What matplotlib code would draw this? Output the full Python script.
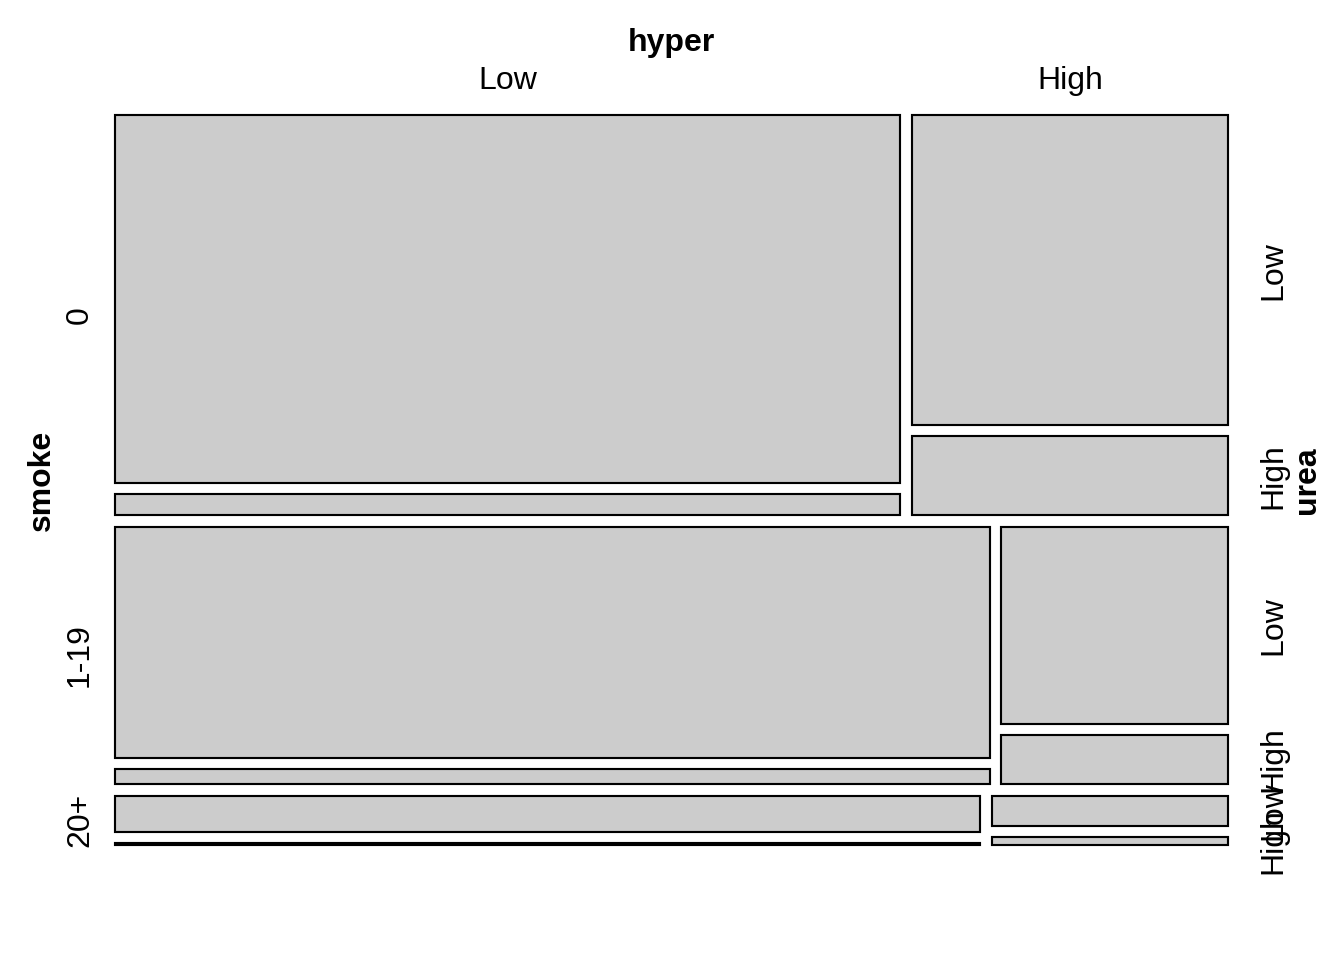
import matplotlib.pyplot as plt
import matplotlib.transforms as mtransforms
from matplotlib.patches import Rectangle

plt.rcParams['font.family'] = ['Liberation Sans', 'DejaVu Sans']

smoke_levels = ["0", "1-19", "20+"]
hyper_levels = ["Low", "High"]
urea_levels = ["Low", "High"]

# counts[smoke][hyper] = [urea Low, urea High]
counts_smoke_0 = [[383, 22], [130, 33]]
counts_smoke_1_19 = [[272, 17], [60, 15]]
counts_smoke_20 = [[52, 3], [12, 3]]
counts = [counts_smoke_0, counts_smoke_1_19, counts_smoke_20]

fig = plt.figure(figsize=(7, 5), dpi=192)
W, H = 1344, 960
left, right, top, bottom = 115, 1228, 115, 845
ax = fig.add_axes([left / W, (H - bottom) / H, (right - left) / W, (bottom - top) / H])
ax.set_xlim(0, 1)
ax.set_ylim(1, 0)
ax.axis('off')

gap_smoke = 12 / (bottom - top)
gap_hyper = 11.5 / (right - left)
gap_urea = 11 / (bottom - top)

smoke_tot = [sum(sum(c) for c in row) for row in counts]
N = sum(smoke_tot)
avail_y = 1 - gap_smoke * (len(smoke_levels) - 1)

y0 = 0
row_pos = []
first_row_cols = None
last_col_cells = []
for i, row in enumerate(counts):
    h = smoke_tot[i] / N * avail_y
    row_pos.append((y0, h))
    avail_x = 1 - gap_hyper * (len(hyper_levels) - 1)
    x0 = 0
    cols = []
    for j, cell in enumerate(row):
        w = sum(cell) / smoke_tot[i] * avail_x
        cols.append((x0, w))
        avail_u = h - gap_urea * (len(urea_levels) - 1)
        yy = y0
        cells = []
        for k, n in enumerate(cell):
            hh = n / sum(cell) * avail_u
            ax.add_patch(Rectangle((x0, yy), w, hh, facecolor='#cccccc',
                                   edgecolor='black', linewidth=0.8, clip_on=False))
            cells.append((yy, hh))
            yy += hh + gap_urea
        if j == len(row) - 1:
            last_col_cells.append(cells)
        x0 += w + gap_hyper
    if i == 0:
        first_row_cols = cols
    y0 += h + gap_smoke

top_tr = mtransforms.blended_transform_factory(ax.transData, ax.transAxes)
side_tr = mtransforms.blended_transform_factory(ax.transAxes, ax.transData)

# variable names and level labels (pixel offsets from the plot region)
ax.text(0.5, (bottom - 43) / (bottom - top), "hyper", transform=ax.transAxes,
        ha='center', va='center', fontsize=12, fontweight='bold')
for lab, (x0, w) in zip(hyper_levels, first_row_cols):
    ax.text(x0 + w / 2, (bottom - 81) / (bottom - top), lab, transform=top_tr,
            ha='center', va='center', fontsize=12)

ax.text((42 - left) / (right - left), 0.5, "smoke", transform=ax.transAxes,
        ha='center', va='center', rotation=90, fontsize=12, fontweight='bold')
for lab, (y0, h) in zip(smoke_levels, row_pos):
    ax.text((80 - left) / (right - left), y0 + h / 2, lab, transform=side_tr,
            ha='center', va='center', rotation=90, fontsize=12)

ax.text((1307 - left) / (right - left), 0.5, "urea", transform=ax.transAxes,
        ha='center', va='center', rotation=90, fontsize=12, fontweight='bold')
for cells in last_col_cells:
    for lab, (yy, hh) in zip(urea_levels, cells):
        ax.text((1273 - left) / (right - left), yy + hh / 2, lab, transform=side_tr,
                ha='center', va='center', rotation=90, fontsize=12)

fig.savefig("out.png", dpi=192, facecolor='white')
